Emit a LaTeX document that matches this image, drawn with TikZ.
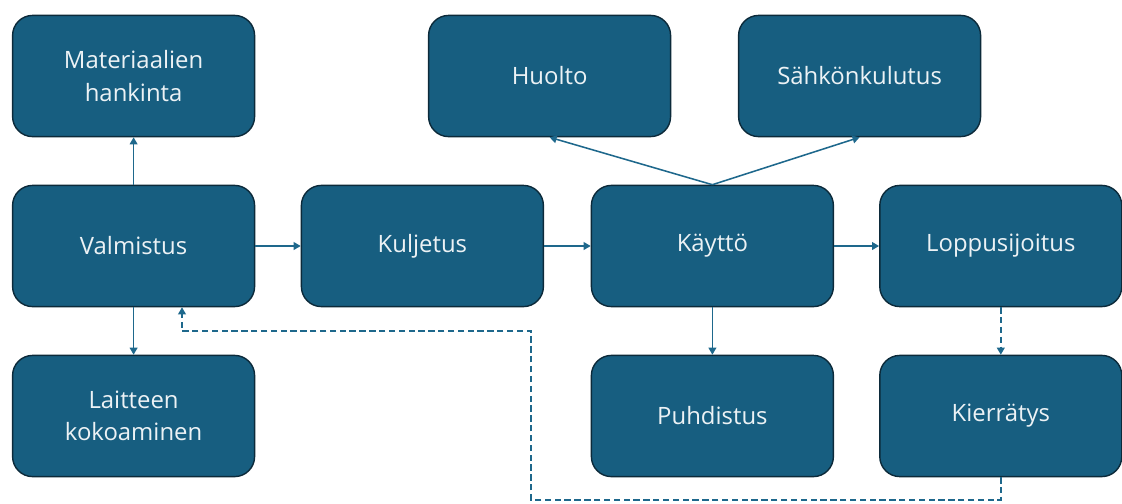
\documentclass[tikz,border=0pt]{standalone}
\usepackage{fontspec}
\setmainfont{Open Sans}
\usepackage{tikz}
\usetikzlibrary{arrows.meta}
\definecolor{boxblue}{RGB}{23,94,128}
\definecolor{boxedge}{RGB}{12,42,58}
\definecolor{linkblue}{RGB}{30,104,140}
\definecolor{boxtext}{RGB}{236,242,245}
\tikzset{
    stage/.style={shape=rectangle, rounded corners=0.5cm, draw=boxedge, line width=1pt,
        fill=boxblue, text=boxtext, minimum width=6.05cm, minimum height=3.03cm,
        align=center, font=\fontsize{17}{23}\selectfont},
    link/.style={draw=linkblue, line width=1.1pt, -{Triangle[width=5.5pt,length=5pt]}},
    backlink/.style={link, dash pattern=on 4.5pt off 2.5pt}}

\begin{document}
\begin{tikzpicture}

            \useasboundingbox (0,0) rectangle (28.05,-12.575);

            \node[stage] (M) at (3.34,-1.90) {Materiaalien\\hankinta};
            \node[stage] (V) at (3.34,-6.15) {Valmistus};
            \node[stage] (L) at (3.34,-10.40) {Laitteen\\kokoaminen};
            \node[stage] (K) at (10.56,-6.15) {Kuljetus};
            \node[stage] (U) at (17.81,-6.15) {Käyttö};
            \node[stage] (S) at (25.02,-6.15) {Loppusijoitus};
            \node[stage] (H) at (13.74,-1.90) {Huolto};
            \node[stage] (E) at (21.49,-1.90) {Sähkönkulutus};
            \node[stage] (P) at (17.81,-10.40) {Puhdistus};
            \node[stage] (R) at (25.02,-10.40) {Kierrätys};

            \coordinate (c1) at (25.02,-12.50);
            \coordinate (c2) at (13.28,-12.50);
            \coordinate (c3) at (13.28,-8.28);
            \coordinate (c4) at (4.55,-8.28);

            \draw[link] (V) -- (M);
            \draw[link] (V) -- (L);
            \draw[link] (V) -- (K);
            \draw[link] (K) -- (U);
            \draw[link] (U) -- (S);
            \draw[link] (U.north) -- (H.south);
            \draw[link] (U.north) -- (E.south);
            \draw[link] (U) -- (P);
            \draw[backlink] (S) -- (R);
            \draw[backlink] (R.south) -- (c1) -- (c2) -- (c3) -- (c4) -- (c4 |- V.south);

\end{tikzpicture}
\end{document}
